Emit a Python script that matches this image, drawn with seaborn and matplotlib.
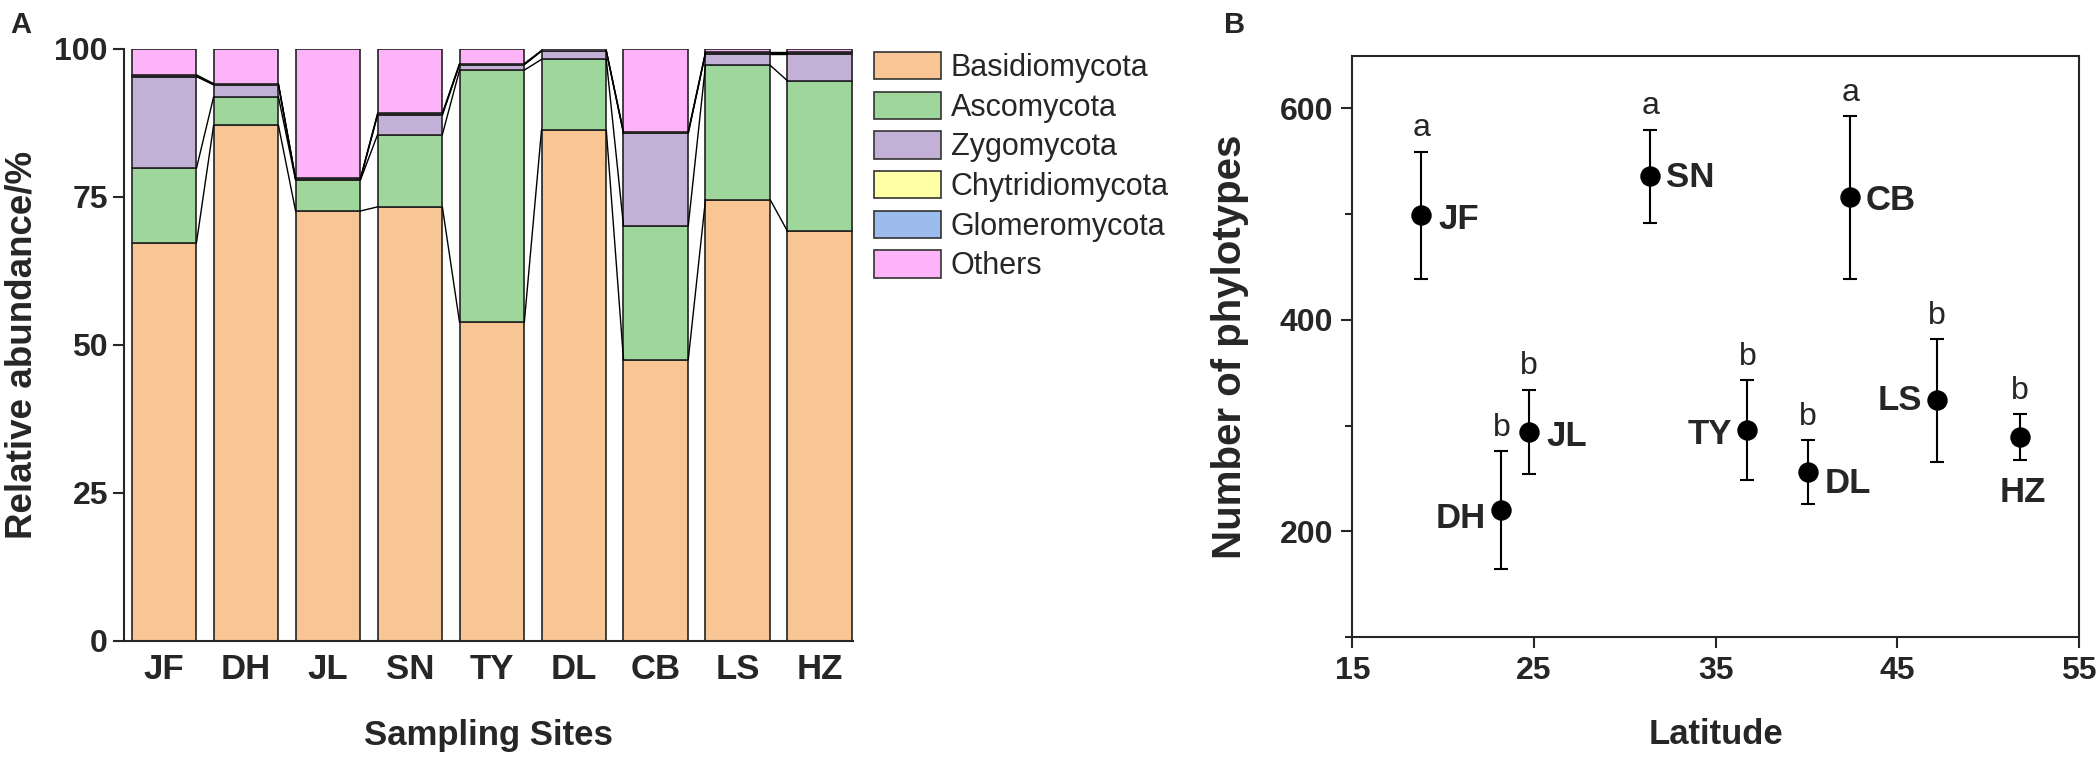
import numpy as np
import pandas as pd
import matplotlib
matplotlib.use("Agg")
import matplotlib.pyplot as plt
from matplotlib.patches import Patch
from matplotlib.ticker import MultipleLocator
import seaborn as sns

sns.set_style("ticks")
plt.rcParams['font.family'] = ['Liberation Sans', 'DejaVu Sans']

# ---- panel A data: relative abundance (%) per site ----
sites = ['JF', 'DH', 'JL', 'SN', 'TY', 'DL', 'CB', 'LS', 'HZ']
phyla = ['Basidiomycota', 'Ascomycota', 'Zygomycota',
         'Chytridiomycota', 'Glomeromycota', 'Others']
basidio = [67.2, 87.1, 72.6, 73.3, 53.8, 86.3, 47.5, 74.5, 69.2]
asco    = [12.6, 4.8, 5.2, 12.2, 42.6, 11.9, 22.6, 22.7, 25.4]
zygo    = [15.5, 2.0, 0.1, 3.3, 0.9, 1.4, 15.6, 2.0, 4.6]
chytrid = [0.1, 0.1, 0.1, 0.1, 0.1, 0.05, 0.1, 0.1, 0.1]
glomero = [0.2, 0.1, 0.1, 0.2, 0.1, 0.05, 0.2, 0.1, 0.1]
others  = [4.4, 5.9, 21.9, 10.9, 2.5, 0.3, 14.0, 0.6, 0.6]
phyla_colors = ['#F8C594', '#9ED69B', '#C2B0D6', '#FFFFA6', '#9BBCEC', '#FDB3F8']

# ---- panel B data: phylotype richness vs latitude ----
lat      = [18.8, 23.2, 24.7, 31.4, 36.75, 40.1, 42.4, 47.2, 51.75]
richness = [499, 220, 294, 536, 296, 256, 516, 324, 289]
sd       = [60, 56, 40, 44, 47, 30, 77, 58, 22]
groups   = ['a', 'b', 'b', 'a', 'b', 'b', 'a', 'b', 'b']

BAR_W = 0.79
TICK_FS = 23
XLAB_FS = 25

fig = plt.figure(figsize=(21, 7.62), dpi=100)
axA = fig.add_axes([0.059, 0.159, 0.347, 0.777])
axB = fig.add_axes([0.644, 0.164, 0.346, 0.763])

# ---------- A: stacked bars ----------
layers = [basidio, asco, zygo, chytrid, glomero, others]
bottom = np.zeros(len(sites))
levels = []
for vals, name, col in zip(layers, phyla, phyla_colors):
    df = pd.DataFrame({'site': sites, 'value': vals})
    sns.barplot(data=df, x='site', y='value', order=sites, color=col,
                width=BAR_W, bottom=bottom.copy(), edgecolor='#222222',
                linewidth=1.2, saturation=1, ax=axA)
    bottom = bottom + np.array(vals)
    levels.append(bottom.copy())

# thin lines joining segment boundaries between neighbouring bars
for lev in levels[:-1]:
    for i in range(len(sites) - 1):
        axA.plot([i + BAR_W / 2, i + 1 - BAR_W / 2], [lev[i], lev[i + 1]],
                 color='black', lw=1, zorder=1)

axA.set_xlim(-0.49, len(sites) - 1 + BAR_W / 2 + 0.005)
axA.set_ylim(0, 100)
axA.set_yticks([0, 25, 50, 75, 100])
axA.set_xlabel('Sampling Sites', fontsize=XLAB_FS, fontweight='bold', va='top')
axA.set_ylabel('Relative abundance/%', fontsize=26.5, fontweight='bold')
axA.xaxis.set_label_coords(0.5, -0.132)
axA.yaxis.set_label_coords(-0.116, 0.5)
sns.despine(ax=axA)
axA.spines['left'].set_linewidth(1.5)
axA.spines['bottom'].set_linewidth(1.5)
axA.tick_params(axis='y', length=8, width=1.5, labelsize=TICK_FS)
axA.tick_params(axis='x', length=0, labelsize=25, pad=9)
for t in axA.get_xticklabels() + axA.get_yticklabels():
    t.set_fontweight('bold')

handles = [Patch(facecolor=c, edgecolor='#333333', linewidth=1.2, label=p)
           for p, c in zip(phyla, phyla_colors)]
fig.legend(handles=handles, loc='upper left', bbox_to_anchor=(0.416, 0.932),
           frameon=False, fontsize=22, handlelength=2.2, handleheight=1.0,
           labelspacing=0.28, handletextpad=0.33, borderaxespad=0, borderpad=0)

# ---------- B: richness vs latitude ----------
axB.errorbar(lat, richness, yerr=sd, fmt='none', ecolor='black',
             elinewidth=1.5, capsize=5, capthick=1.5, zorder=2)
sns.scatterplot(x=lat, y=richness, color='black', s=185, edgecolor='black',
                zorder=3, ax=axB, legend=False)

# site name offsets (points) and alignment
label_pos = {
    'JF': (12, -3, 'left'), 'DH': (-11, -6, 'right'), 'JL': (13, -3, 'left'),
    'SN': (11, -1, 'left'), 'TY': (-11, -3, 'right'), 'DL': (12, -8, 'left'),
    'CB': (11, -2, 'left'), 'LS': (-11, 0, 'right'), 'HZ': (2, -40, 'center'),
}
for s, x, y, e, g in zip(sites, lat, richness, sd, groups):
    dx, dy, ha = label_pos[s]
    axB.annotate(s, (x, y), xytext=(dx, dy), textcoords='offset points',
                 ha=ha, va='center', fontsize=25, fontweight='bold')
    axB.annotate(g, (x, y + e), xytext=(0, 6), textcoords='offset points',
                 ha='center', va='bottom', fontsize=23)

axB.set_xlim(15, 55)
axB.set_ylim(100, 650)
axB.set_xticks([15, 25, 35, 45, 55])
axB.set_yticks([200, 400, 600])
axB.yaxis.set_minor_locator(MultipleLocator(100))
axB.set_xlabel('Latitude', fontsize=XLAB_FS, fontweight='bold', va='top')
axB.set_ylabel('Number of phylotypes', fontsize=29, fontweight='bold')
axB.xaxis.set_label_coords(0.5, -0.139)
axB.yaxis.set_label_coords(-0.142, 0.5)
for sp in axB.spines.values():
    sp.set_linewidth(1.5)
axB.tick_params(axis='both', which='major', length=8, width=1.5,
                labelsize=TICK_FS, pad=6)
axB.tick_params(axis='y', which='minor', length=5, width=1.5)
for t in axB.get_xticklabels() + axB.get_yticklabels():
    t.set_fontweight('bold')

fig.text(0.005, 0.985, 'A', fontsize=21, fontweight='bold', va='top')
fig.text(0.583, 0.985, 'B', fontsize=21, fontweight='bold', va='top')

fig.savefig('out.png', dpi=100)
